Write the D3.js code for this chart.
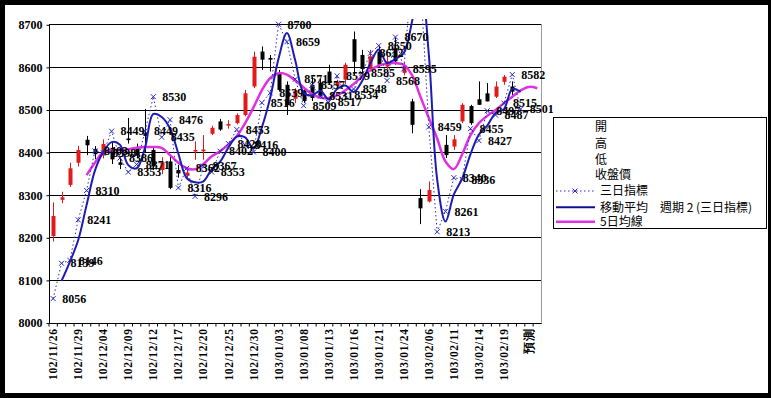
<!DOCTYPE html>
<html><head><meta charset="utf-8">
<script src="https://cdn.jsdelivr.net/npm/d3@7"></script>
<style>body{margin:0;background:#000;} svg{display:block;}</style>
</head><body>
<svg id="c" width="771" height="398"></svg>
<script>
// ---- data ----
const dates = ["102/11/26","102/11/27","102/11/28","102/11/29","102/12/02","102/12/03","102/12/04","102/12/05","102/12/06","102/12/09",
"102/12/10","102/12/11","102/12/12","102/12/13","102/12/16","102/12/17","102/12/18","102/12/19","102/12/20","102/12/23",
"102/12/24","102/12/25","102/12/26","102/12/27","102/12/30","102/12/31","103/01/02","103/01/03","103/01/06","103/01/07",
"103/01/08","103/01/09","103/01/10","103/01/13","103/01/14","103/01/15","103/01/16","103/01/17","103/01/20","103/01/21",
"103/01/22","103/01/23","103/01/24","103/01/27","103/02/05","103/02/06","103/02/07","103/02/10","103/02/11","103/02/12",
"103/02/13","103/02/14","103/02/17","103/02/18","103/02/19","103/02/20","103/02/21","預測"," "];
const openP  = [8203,8288,8323,8375,8429,8407,8392,8410,8376,8432,8410,8445,8405,8358,8378,8358,8345,8402,8402,8443,8472,8462,8468,8487,8554,8636,8621,8585,8558,8525,8545,8558,8563,8589,8555,8570,8665,8628,8595,8636,8601,8644,8586,8519,8292,8284,null,8417,8413,8472,8508,8524,8538,8530,8565,8554];
const highP  = [8282,8307,8375,8415,8438,8414,8430,8425,8390,8480,8420,8501,8412,8388,8390,8370,8360,8425,8440,8462,8478,8475,8491,8546,8636,8648,8628,8593,8566,8550,8552,8577,8572,8605,8570,8610,8683,8640,8640,8650,8625,8668,8610,8525,8313,8331,null,8440,8440,8515,8511,8566,8562,8566,8581,8566];
const lowP   = [8190,8280,8318,8366,8393,8383,8385,8372,8360,8420,8385,8400,8358,8348,8313,8340,8335,8382,8382,8440,8450,8455,8465,8484,8550,8593,8589,8542,8487,8515,8515,8520,8525,8558,8550,8560,8580,8588,8590,8598,8595,8605,8580,8444,8231,8282,null,8386,8405,8468,8464,8511,8519,8527,8558,8534];
const closeP = [8250,8294,8362,8405,8416,8395,8419,8383,8370,8428,8392,8438,8366,8376,8316,8350,8352,8405,8406,8457,8453,8466,8487,8538,8624,8617,8617,8546,8510,8545,8520,8527,8530,8562,8565,8605,8612,8595,8625,8605,8613,8613,8602,8464,8268,8311,null,8393,8430,8511,8468,8511,8519,8554,8577,8542];
const sanri  = [8056,8139,8146,8241,8310,8403,8398,8449,8386,8353,8371,8449,8530,8435,8476,8316,8362,8296,8367,8353,8402,8420,8453,8416,8400,8516,8539,8700,8659,8571,8509,8557,8531,8517,8579,8534,8548,8585,8632,8650,8568,8670,8595,8820,8800,8459,8213,8261,8340,8336,8455,8427,8497,8487,8515,8582,8501];
const ma5    = [null,null,null,null,8346,8375,8400,8404,8405,8407,8410,8412,8412,8410,8393,8375,8362,8360,8372,8390,8402,8418,8438,8468,8505,8545,8574,8585,8582,8568,8552,8536,8528,8527,8533,8545,8560,8577,8592,8603,8608,8609,8605,8580,8530,8480,8432,8378,8360,8395,8440,8468,8485,8499,8515,8530,8545,8553,8550];
const yTicks = [8000,8100,8200,8300,8400,8500,8600,8700];
const legendLabels = ["開","高","低","收盤價","三日指標","移動平均　週期 2 (三日指標)","5日均線"];

// ---- layout ----
const svg = d3.select("#c");
svg.append("rect").attr("x",5).attr("y",5).attr("width",763).attr("height",388).attr("fill","#fff");
const L=49, R=541.5, T=24.3, B=322.5;
const x = d3.scaleBand().domain(d3.range(dates.length)).range([L,R]).paddingInner(0).paddingOuter(0);
const xc = i => x(i) + x.bandwidth()/2;
const y = d3.scaleLinear().domain([8000,8700]).range([B,T]);

const numFont = "'Liberation Serif', serif";
const BLUE = "#1c1cb4", DOT="#2a2ac8", MAG="#e030e0", RED="#e31a1a";

// gridlines
svg.append("g").selectAll("line").data(yTicks).join("line")
  .attr("x1",L).attr("x2",R).attr("y1",d=>Math.round(y(d))+0.5).attr("y2",d=>Math.round(y(d))+0.5)
  .attr("stroke","#000").attr("stroke-width",1);
svg.append("line").attr("x1",R).attr("x2",R).attr("y1",T).attr("y2",B).attr("stroke","#9a9a9a");

// y axis
const yAxis = d3.axisLeft(y).tickValues(yTicks).tickSize(3).tickPadding(4).tickFormat(d3.format("d"));
const gy = svg.append("g").attr("transform",`translate(${L}.5,0.5)`).call(yAxis);
gy.select(".domain").attr("stroke","#000").attr("d",`M0,${T}V${B}`);
gy.selectAll("text").attr("font-family",numFont).attr("font-weight","bold").attr("font-size",12).attr("fill","#000");

// x axis
const xAxis = d3.axisBottom(x).tickSize(3).tickFormat(i => (i%3===0) ? dates[i] : "");
const gx = svg.append("g").attr("transform",`translate(0,${Math.round(B)+0.5})`).call(xAxis);
gx.select(".domain").attr("stroke","#000").attr("d",`M${L},0H${R}`);
gx.selectAll(".tick line").attr("transform",`translate(${-x.bandwidth()/2},0)`).attr("stroke","#000");
gx.selectAll("text").attr("font-family",numFont).attr("font-weight","bold").attr("font-size",11.5)
  .attr("fill","#000").attr("transform","rotate(-90)").attr("text-anchor","end")
  .attr("x",-5).attr("y",0).attr("dy","0.35em").attr("letter-spacing","0.6");

// clip
svg.append("clipPath").attr("id","clip").append("rect").attr("x",L).attr("y",19).attr("width",R-L).attr("height",B-19);
const plot = svg.append("g").attr("clip-path","url(#clip)");

// candles
const idx = d3.range(openP.length).filter(i => openP[i]!=null);
plot.append("g").selectAll("line").data(idx).join("line")
  .attr("x1",i=>Math.round(xc(i))+0.5).attr("x2",i=>Math.round(xc(i))+0.5)
  .attr("y1",i=>y(highP[i])).attr("y2",i=>y(lowP[i]))
  .attr("stroke",i=>closeP[i]>=openP[i]?RED:"#000").attr("stroke-width",1);
plot.append("g").selectAll("rect").data(idx).join("rect")
  .attr("x",i=>Math.round(xc(i))-1.5).attr("width",4)
  .attr("y",i=>y(Math.max(openP[i],closeP[i])))
  .attr("height",i=>Math.max(1.5, Math.abs(y(openP[i])-y(closeP[i]))))
  .attr("fill",i=>closeP[i]>=openP[i]?RED:"#000");

// 5-day MA
const ma5Pts = ma5.map((v,i)=>[i,v]).filter(d=>d[1]!=null);
plot.append("path").datum(ma5Pts)
  .attr("d", d3.line().x(d=>xc(d[0])).y(d=>y(d[1])).curve(d3.curveCatmullRom.alpha(0.5)))
  .attr("fill","none").attr("stroke",MAG).attr("stroke-width",2.5);

// 3-day indicator dotted
const sPts = sanri.map((v,i)=>[i,v]);
plot.append("path").datum(sPts)
  .attr("d", d3.line().x(d=>xc(d[0])).y(d=>y(d[1])))
  .attr("fill","none").attr("stroke",DOT).attr("stroke-width",1).attr("stroke-dasharray","1.5,2.5");

// moving average period 2 trendline of the 3-day indicator
const ma2Pts = d3.range(1, sanri.length).map(i => [i, d3.mean([sanri[i-1], sanri[i]])]);
plot.append("path").datum(ma2Pts)
  .attr("d", d3.line().x(d=>xc(d[0])).y(d=>y(d[1])).curve(d3.curveCatmullRom.alpha(0.5)))
  .attr("fill","none").attr("stroke",BLUE).attr("stroke-width",2);

// markers
const vis = sPts.filter(d=>d[1]<=8700);
plot.append("g").selectAll("path").data(vis).join("path")
  .attr("d", d=>{const cx=xc(d[0]), cy=y(d[1]), s=2.5; return `M${cx-s},${cy-s}L${cx+s},${cy+s}M${cx-s},${cy+s}L${cx+s},${cy-s}`;})
  .attr("stroke",DOT).attr("stroke-width",1).attr("fill","none");

// data labels
svg.append("g").selectAll("text").data(vis).join("text")
  .attr("x",d=>xc(d[0])+9).attr("y",d=>y(d[1])).attr("dy","0.35em")
  .attr("font-family",numFont).attr("font-weight","bold").attr("font-size",12).attr("fill","#000")
  .text(d=>d[1]);

// legend
const lg = svg.append("g");
lg.append("rect").attr("x",553.5).attr("y",117.5).attr("width",213).attr("height",111).attr("fill","#fff").attr("stroke","#000");
const ly = [126.7,143.3,159.5,175,191,207.3,221.7];
lg.selectAll("text").data(legendLabels).join("text")
  .attr("x",(d,i)=> i<4 ? 595 : 600).attr("y",(d,i)=>ly[i]).attr("dy","0.36em")
  .attr("font-family","'Noto Sans CJK TC', sans-serif").attr("font-size",12).attr("fill","#000")
  .text(d=>d);
lg.append("line").attr("x1",556).attr("x2",595).attr("y1",ly[4]).attr("y2",ly[4]).attr("stroke",DOT).attr("stroke-dasharray","1.5,2.5");
lg.append("path").attr("d",`M${575-2.5},${ly[4]-2.5}L${575+2.5},${ly[4]+2.5}M${575-2.5},${ly[4]+2.5}L${575+2.5},${ly[4]-2.5}`).attr("stroke",DOT);
lg.append("line").attr("x1",556).attr("x2",595).attr("y1",ly[5]).attr("y2",ly[5]).attr("stroke","#101090").attr("stroke-width",2);
lg.append("line").attr("x1",556).attr("x2",595).attr("y1",ly[6]).attr("y2",ly[6]).attr("stroke",MAG).attr("stroke-width",2.5);
</script>
</body></html>
